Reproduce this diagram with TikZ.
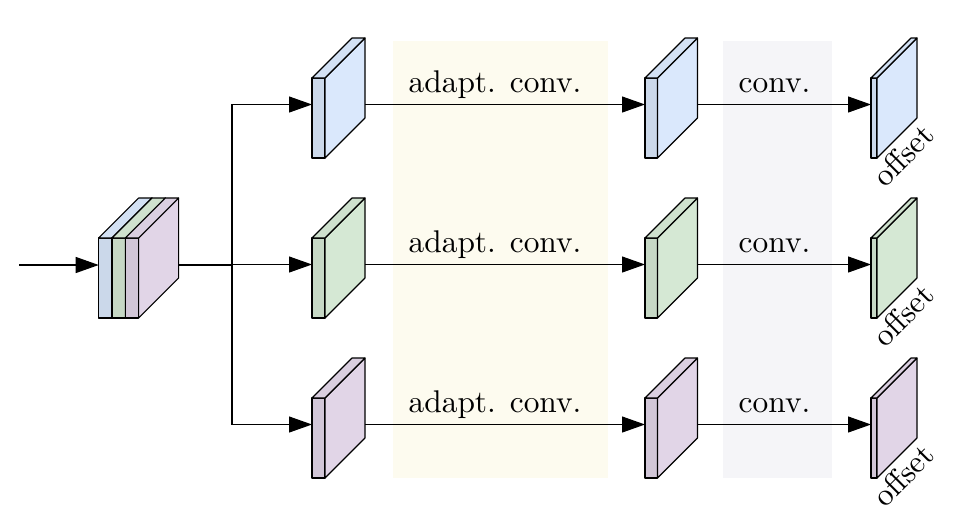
\documentclass[tikz,border=0pt]{standalone}
\usepackage{graphicx}
\usetikzlibrary{arrows.meta,calc}
\definecolor{cblue}{HTML}{DAE8FC}
\definecolor{cgreen}{HTML}{D5E8D4}
\definecolor{cpurple}{HTML}{E1D5E7}
\definecolor{bandY}{HTML}{FDFBEF}
\definecolor{bandG}{HTML}{F5F5F8}
\newcommand\slab[5]{% name, x, y(top), width, colour
  \node[draw, fill=#5!93!black, minimum width=#4pt, minimum height=80pt,
        inner sep=0pt, outer sep=0pt, anchor=north west, slabline] (#1) at (#2,#3) {};
  \draw[slabline, fill=#5] (#1.north east) -- ++(40,-40) -- ++(0,80) -- (#1.south east) -- cycle;
  \draw[slabline, fill=#5!97!black] (#1.north west) -- ++(40,-40) -- ++(#4,0) -- (#1.north east) -- cycle;
}
\newcommand\bigtxt[1]{\scalebox{3.14}{\fontsize{10}{12}\selectfont #1}}
\tikzset{
  slabline/.style={line width=1.1pt, line join=round},
  arr/.style={line width=1.1pt, -{Triangle[length=23pt,width=16pt]}},
  conn/.style={line width=1.1pt},
  lbl/.style={inner sep=0pt, anchor=base},
}
\begin{document}
\begin{tikzpicture}[x=1pt,y=-1pt]
\useasboundingbox (0,0) rectangle (957,517);
% background bands
\fill[bandY] (393,41) rectangle (608,478);
\fill[bandG] (723,41) rectangle (832,478);
% input block
\slab{i1}{98.7}{238}{13.3}{cblue}
\slab{i2}{112}{238}{13.3}{cgreen}
\slab{i3}{125.3}{238}{13.3}{cpurple}
\coordinate (start) at (19,265);
\coordinate (iin) at ($(i1.north west)+(0,27)$);
\coordinate (iout) at ($(i3.north east)+(40,27)$);
\coordinate (split) at (232,265);
\draw[arr] (start) -- (iin);
\draw[conn] (iout) -- (split);
\foreach \c/\y/\i in {cblue/78/1, cgreen/238/2, cpurple/398/3} {
  \slab{a\i}{312}{\y}{13}{\c}
  \slab{b\i}{645}{\y}{12.5}{\c}
  \slab{o\i}{871}{\y}{6}{\c}
  \coordinate (ain\i) at ($(a\i.north west)+(0,26.5)$);
  \coordinate (aout\i) at ($(a\i.north east)+(40,26.5)$);
  \coordinate (bin\i) at ($(b\i.north west)+(0,26.5)$);
  \coordinate (bout\i) at ($(b\i.north east)+(40,26.5)$);
  \coordinate (oin\i) at ($(o\i.north west)+(0,26.5)$);
  \draw[arr] (split) |- (ain\i);
  \draw[arr] (aout\i) -- (bin\i);
  \draw[arr] (bout\i) -- (oin\i);
  \node[lbl] (la\i) at ($(a\i.north west)+(183,14)$) {\bigtxt{adapt. conv.}};
  \node[lbl] (lb\i) at ($(b\i.north west)+(129.5,14)$) {\bigtxt{conv.}};
  \node[lbl, anchor=center, rotate=45] (lo\i) at ($(o\i.north west)+(32,77)$) {\bigtxt{offset}};
}
\end{tikzpicture}
\end{document}
